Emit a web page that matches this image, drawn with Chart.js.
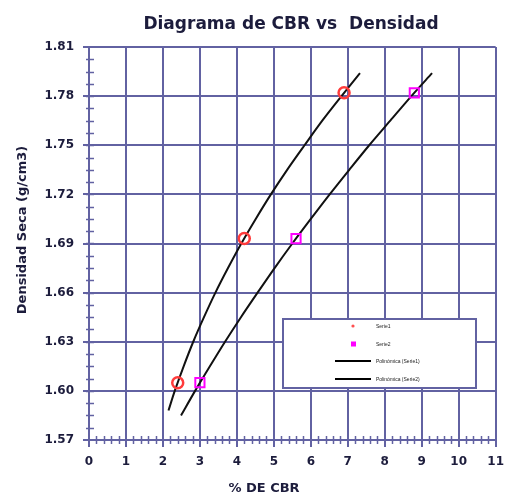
<!DOCTYPE html>
<html>
<head>
<meta charset="utf-8">
<script src="https://cdn.jsdelivr.net/npm/chart.js@4.4.1/dist/chart.umd.min.js"></script>
<style>
  body { margin: 0; background: #fff; }
  #wrap { width: 512px; height: 498px; }
</style>
</head>
<body>
<div id="wrap"><canvas id="cbrChart" width="512" height="498"></canvas></div>
<script>
// measured points (CBR %, dry density)
const cbrSerie1 = [2.4, 4.2, 6.9];
const densSerie1 = [1.605, 1.693, 1.782];
const cbrSerie2 = [3.0, 5.6, 8.8];
const densSerie2 = [1.605, 1.693, 1.782];

// trend curves
const cbrCurve1 = [2.15, 2.32, 2.56, 2.82, 3.11, 3.42, 3.76, 4.12, 4.51, 4.92, 5.36, 5.83, 6.31, 6.83, 7.33];
const densCurve1 = [1.588, 1.600, 1.615, 1.630, 1.645, 1.660, 1.675, 1.690, 1.705, 1.720, 1.735, 1.750, 1.765, 1.780, 1.794];
const cbrCurve2 = [2.49, 2.87, 3.27, 3.68, 4.11, 4.56, 5.02, 5.50, 6.00, 6.51, 7.04, 7.58, 8.15, 8.72, 9.28];
const densCurve2 = [1.585, 1.600, 1.615, 1.630, 1.645, 1.660, 1.675, 1.690, 1.705, 1.720, 1.735, 1.750, 1.765, 1.780, 1.794];

const xTicks = [0, 1, 2, 3, 4, 5, 6, 7, 8, 9, 10, 11];
const yTicks = [1.57, 1.60, 1.63, 1.66, 1.69, 1.72, 1.75, 1.78, 1.81];

const legendLabels = ['Serie1', 'Serie2', 'Polinómica (Serie1)', 'Polinómica (Serie2)'];

const gridColor = '#6262a2';
const textColor = '#1c1c3c';
const fontFamily = '"DejaVu Sans", Arial, sans-serif';

function toXY(xs, ys) {
  return xs.map((x, i) => ({ x: x, y: ys[i] }));
}

// minor ticks, titles and legend box
const extras = {
  id: 'extras',
  afterDraw(chart) {
    const ctx = chart.ctx;
    const xs = chart.scales.x;
    const ys = chart.scales.y;
    const area = chart.chartArea;
    ctx.save();
    ctx.strokeStyle = gridColor;
    ctx.lineWidth = 1.5;
    // minor ticks on x axis
    for (let v = 0.2; v < 11; v += 0.2) {
      if (Math.abs(v - Math.round(v)) < 0.01) continue;
      const px = Math.round(xs.getPixelForValue(v)) + 0.5;
      ctx.beginPath();
      ctx.moveTo(px, area.bottom - 4);
      ctx.lineTo(px, area.bottom + 4);
      ctx.stroke();
    }
    // minor ticks on y axis
    for (let v = 1.5775; v < 1.81; v += 0.0075) {
      const py = Math.round(ys.getPixelForValue(v)) + 0.5;
      ctx.beginPath();
      ctx.moveTo(area.left - 3, py);
      ctx.lineTo(area.left + 5, py);
      ctx.stroke();
    }

    // titles
    ctx.fillStyle = textColor;
    ctx.textAlign = 'center';
    ctx.textBaseline = 'middle';
    ctx.font = 'bold 17px ' + fontFamily;
    ctx.fillText('Diagrama de CBR vs  Densidad', 291, 25);
    ctx.font = 'bold 13px ' + fontFamily;
    ctx.fillText('% DE CBR', 264, 489);
    ctx.save();
    ctx.translate(23, 230);
    ctx.rotate(-Math.PI / 2);
    ctx.fillText('Densidad Seca (g/cm3)', 0, 0);
    ctx.restore();

    // legend box
    const lx = 283, ly = 319, lw = 193, lh = 69;
    ctx.fillStyle = '#fff';
    ctx.fillRect(lx, ly, lw, lh);
    ctx.strokeStyle = gridColor;
    ctx.lineWidth = 2;
    ctx.strokeRect(lx, ly, lw, lh);
    const rowY = [326, 344, 361, 379];
    ctx.font = '5px "Liberation Sans", Arial, sans-serif';
    ctx.textAlign = 'left';
    rowY.forEach((y, i) => {
      if (i === 0) {
        ctx.fillStyle = '#ff5050';
        ctx.beginPath();
        ctx.arc(353, y, 1.6, 0, Math.PI * 2);
        ctx.fill();
      } else if (i === 1) {
        ctx.fillStyle = '#ff00ff';
        ctx.fillRect(351, y - 2.5, 5, 5);
      } else {
        ctx.strokeStyle = '#000';
        ctx.lineWidth = 2;
        ctx.beginPath();
        ctx.moveTo(335, y);
        ctx.lineTo(371, y);
        ctx.stroke();
      }
      ctx.fillStyle = '#222';
      ctx.fillText(legendLabels[i], 376, y + 0.5);
    });
    ctx.restore();
  }
};

new Chart(document.getElementById('cbrChart'), {
  type: 'scatter',
  data: {
    datasets: [
      {
        label: legendLabels[0],
        data: toXY(cbrSerie1, densSerie1),
        pointStyle: 'circle',
        pointRadius: 5.5,
        borderColor: '#ff3b3b',
        backgroundColor: 'rgba(255,255,255,0)',
        pointBorderWidth: 2.5,
        showLine: false,
        order: 1
      },
      {
        label: legendLabels[1],
        data: toXY(cbrSerie2, densSerie2),
        pointStyle: 'rect',
        pointRadius: 6.5,
        borderColor: '#ff00ff',
        backgroundColor: 'rgba(255,255,255,0)',
        pointBorderWidth: 2,
        showLine: false,
        order: 2
      },
      {
        label: legendLabels[2],
        data: toXY(cbrCurve1, densCurve1),
        showLine: true,
        borderColor: '#111',
        borderWidth: 2,
        pointRadius: 0,
        tension: 0.3,
        order: 3
      },
      {
        label: legendLabels[3],
        data: toXY(cbrCurve2, densCurve2),
        showLine: true,
        borderColor: '#111',
        borderWidth: 2,
        pointRadius: 0,
        tension: 0.3,
        order: 4
      }
    ]
  },
  options: {
    responsive: false,
    animation: false,
    layout: { padding: { left: 0, right: 13, top: 47, bottom: 0 } },
    plugins: {
      legend: { display: false },
      tooltip: { enabled: false }
    },
    scales: {
      x: {
        type: 'linear',
        min: 0,
        max: 11,
        afterBuildTicks: s => { s.ticks = xTicks.map(v => ({ value: v })); },
        afterFit: s => { s.height = 58; },
        grid: { color: gridColor, lineWidth: 2, tickLength: 7, tickColor: gridColor },
        border: { color: gridColor, width: 2 },
        ticks: {
          padding: 8,
          color: textColor,
          font: { family: fontFamily, size: 12, weight: 'bold' },
          maxRotation: 0
        }
      },
      y: {
        type: 'linear',
        min: 1.57,
        max: 1.81,
        afterBuildTicks: s => { s.ticks = yTicks.map(v => ({ value: v })); },
        afterFit: s => { s.width = 89; },
        grid: { color: gridColor, lineWidth: 2, tickLength: 6, tickColor: gridColor },
        border: { color: gridColor, width: 2 },
        ticks: {
          padding: 9,
          color: textColor,
          font: { family: fontFamily, size: 12, weight: 'bold' },
          callback: v => v.toFixed(2)
        }
      }
    }
  },
  plugins: [extras]
});
</script>
</body>
</html>
